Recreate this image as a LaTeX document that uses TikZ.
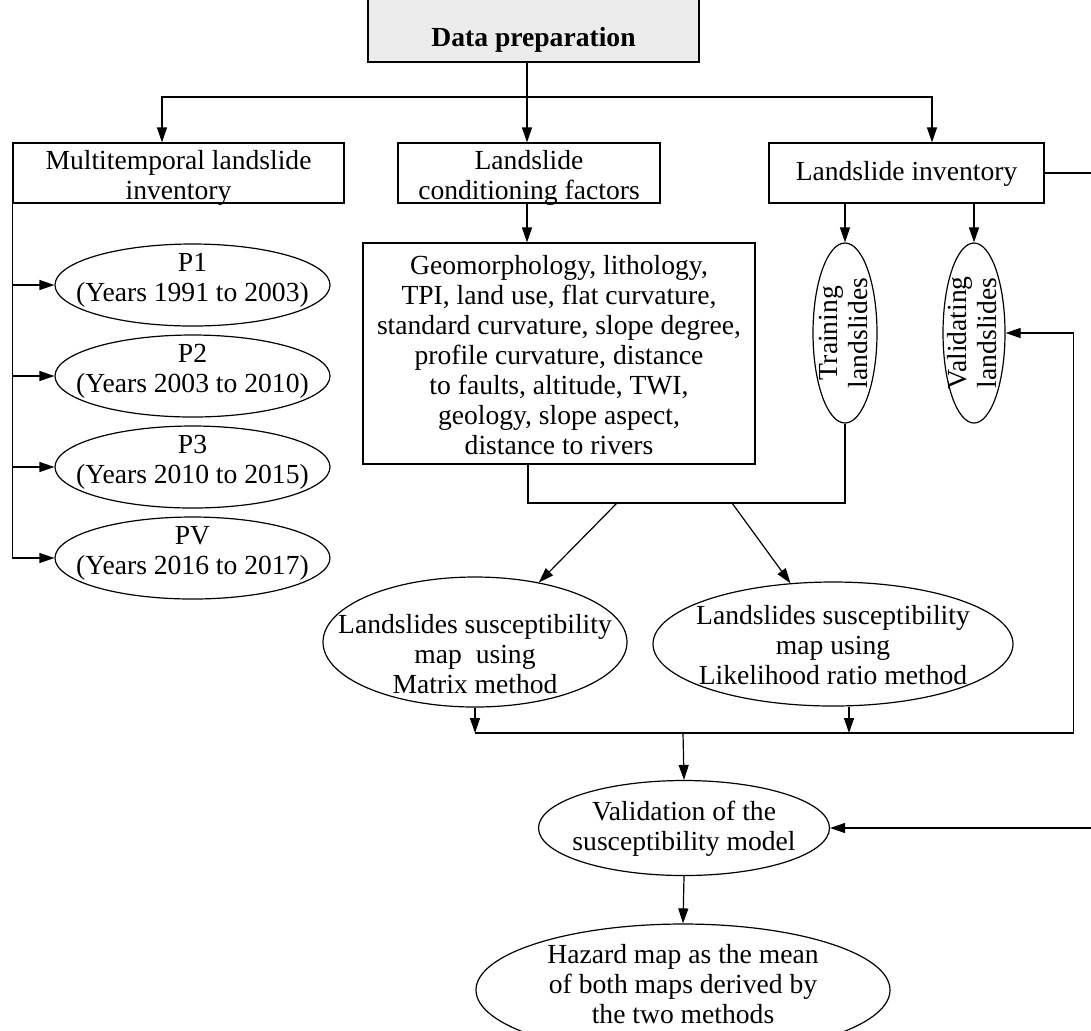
\documentclass[tikz,border=0pt]{standalone}
\usepackage{fontspec}
\setmainfont{Liberation Serif}
\usetikzlibrary{shapes.geometric,arrows.meta}

% centred text that does not size the shape
\newcommand{\ctext}[2][0pt]{%
  \smash{\makebox[0pt]{\raisebox{\dimexpr #1-4.4pt\relax}{%
    \begin{tabular}{@{}c@{}}#2\end{tabular}}}}}

\begin{document}
\begin{tikzpicture}[x=0.5pt, y=-0.5pt, line width=0.6pt,
    every node/.style={font=\fontsize{13.8}{15}\selectfont, line width=0.6pt},
    box/.style={draw, rectangle, inner sep=0pt, minimum height=30pt},
    ell/.style={draw, ellipse, inner sep=0pt},
    arr/.style={-{Triangle[length=7.5pt,width=5pt]}}]
  \useasboundingbox (0,0) rectangle (1091,1030);

  % head
  \node[draw, fill=gray!15, font=\bfseries\fontsize{13.8}{15}\selectfont,
    minimum width=165.5pt, inner sep=0pt, text height=26pt, text depth=8pt,
    anchor=base] (prep) at (533.5,46) {Data preparation};

  % first row
  \node[box, minimum width=165.5pt] (multi) at (178.5,173) {\ctext[-2pt]{Multitemporal landslide\\inventory}};
  \node[box, minimum width=131pt] (cond) at (529,173) {\ctext[-2pt]{Landslide\\conditioning factors}};
  \node[box, minimum width=137.5pt] (inv) at (906.5,173) {\ctext{Landslide inventory}};

  \node[box, minimum width=196pt, minimum height=110.5pt] (factors) at (559,353.5)
    {\ctext[-1.75pt]{Geomorphology, lithology,\\TPI, land use, flat curvature,\\standard curvature, slope degree,\\profile curvature, distance\\to faults, altitude, TWI,\\geology, slope aspect,\\distance to rivers}};

  % periods
  \foreach \name/\p/\yr [count=\i] in {p1/P1/1991 to 2003, p2/P2/2003 to 2010,
      p3/P3/2010 to 2015, pv/PV/2016 to 2017} {
    \node[ell, minimum width=137.5pt, minimum height=41pt] (\name) at (192.5,194+91*\i)
      {\ctext[3pt]{\p\\(Years \yr)}};
    \draw[arr] (multi.south west) |- (\name.west);
  }

  % samples
  \node[ell, rotate=90, minimum width=90pt, minimum height=32pt] (train) at (845,333)
    {\ctext{Training\\landslides}};
  \node[ell, rotate=90, minimum width=90pt, minimum height=31pt] (valid) at (974,333)
    {\ctext{Validating\\landslides}};

  % maps
  \node[ell, minimum width=152pt, minimum height=65pt] (matrix) at (475,642)
    {\ctext[-7pt]{Landslides susceptibility\\map\ \ using\\Matrix method}};
  \node[ell, minimum width=180pt, minimum height=62pt] (likeli) at (833,644)
    {\ctext[-1.5pt]{Landslides susceptibility\\map using\\Likelihood ratio method}};
  \node[ell, minimum width=145.5pt, minimum height=47.5pt] (validation) at (684,828)
    {\ctext{Validation of the\\susceptibility model}};
  \node[ell, minimum width=207pt, minimum height=66pt] (hazard) at (683,990)
    {\ctext[2pt]{Hazard map as the mean\\of both maps derived by\\the two methods}};

  % connectors
  \coordinate (split) at (527,97);
  \draw (prep.south -| split) -- (split);
  \draw[arr] (split) -| ([xshift=-8.25pt]multi.north);
  \draw[arr] (split) -- (split |- cond.north);
  \draw[arr] (split) -| ([xshift=12.75pt]inv.north);
  \draw[arr] (cond.south -| split) -- (split |- factors.north);
  \draw[arr] (inv.south -| train.center) -- (train.east);
  \draw[arr] (inv.south -| valid.center) -- (valid.east);

  \coordinate (join) at (528,503);
  \draw (factors.south -| join) -- (join) -| (train.west);
  \draw[arr] ([xshift=44.5pt]join) -- (matrix.43);
  \draw[arr] ([xshift=102pt]join) -- (likeli.125);

  \coordinate (merge) at (683,733);
  \draw[arr] (matrix.south) -- (matrix.south |- merge);
  \draw[arr] ([xshift=8pt]likeli.south) -- ([xshift=8pt]likeli.south |- merge);
  \draw[arr] (matrix.south |- merge) -| ([xshift=34pt]valid.south) -- (valid.south);
  \draw[arr] (merge) -- (validation.north);
  \draw[arr] (validation.south) -- (hazard.north);
  \draw[arr] (inv.east) -- ++(28pt,0) |- (validation.east);
\end{tikzpicture}
\end{document}
